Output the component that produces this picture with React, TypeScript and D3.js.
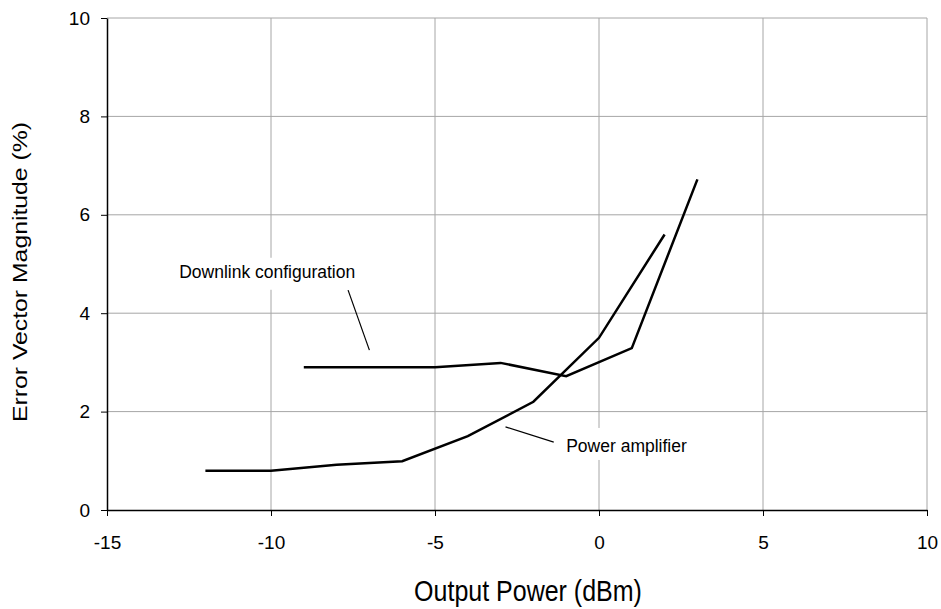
import React, { useEffect, useRef } from "react";
import * as d3 from "d3";

// values
const ampX = [-12, -10, -8, -6, -4, -2, 0, 2];
const ampY = [0.8, 0.8, 0.92, 0.99, 1.5, 2.2, 3.5, 5.6];
const dlX = [-9, -7, -5, -3, -1, 1, 3];
const dlY = [2.9, 2.9, 2.9, 2.99, 2.72, 3.29, 6.72];
const xTicks = [-15, -10, -5, 0, 5, 10];
const yTicks = [0, 2, 4, 6, 8, 10];
const labels = ["Downlink configuration", "Power amplifier"];

export default function App() {
  const ref = useRef<SVGSVGElement>(null);

  useEffect(() => {
    const width = 941,
      height = 609;
    const margin = { top: 18, right: 14, bottom: 99, left: 107 };
    const svg = d3.select(ref.current);
    svg.selectAll("*").remove();

    const x = d3.scaleLinear().domain([-15, 10]).range([margin.left, width - margin.right]);
    const y = d3.scaleLinear().domain([0, 10]).range([height - margin.bottom, margin.top]);
    const font = "'Liberation Sans', Arial, sans-serif";

    // grid
    svg.append("g")
      .selectAll("line")
      .data(yTicks.slice(1))
      .enter()
      .append("line")
      .attr("x1", x(-15))
      .attr("x2", x(10))
      .attr("y1", (d) => y(d))
      .attr("y2", (d) => y(d))
      .attr("stroke", "#a6a6a6")
      .attr("stroke-width", 1);
    svg.append("g")
      .selectAll("line")
      .data(xTicks.slice(1))
      .enter()
      .append("line")
      .attr("x1", (d) => x(d))
      .attr("x2", (d) => x(d))
      .attr("y1", y(0))
      .attr("y2", y(10))
      .attr("stroke", "#a6a6a6")
      .attr("stroke-width", 1);

    // label boxes hide the grid behind the text
    const dlPos = { x: -12.8, y: 4.72 };
    const paPos = { x: -1.0, y: 1.18 };
    svg.append("rect").attr("x", x(dlPos.x) - 8).attr("y", y(dlPos.y) - 20)
      .attr("width", 196).attr("height", 32).attr("fill", "white");
    svg.append("rect").attr("x", x(paPos.x) - 10).attr("y", y(paPos.y) - 24)
      .attr("width", 140).attr("height", 32).attr("fill", "white");

    const xAxis = d3.axisBottom(x).tickValues(xTicks).tickSize(6).tickSizeOuter(0).tickFormat((d) => String(d));
    const yAxis = d3.axisLeft(y).tickValues(yTicks).tickSize(6).tickSizeOuter(0).tickFormat((d) => String(d));

    svg.append("g")
      .attr("transform", `translate(0,${y(0)})`)
      .call(xAxis)
      .call((g) => g.select(".domain").attr("stroke", "#000").attr("stroke-width", 1.5))
      .call((g) => g.selectAll(".tick line").attr("stroke", "#000"))
      .call((g) =>
        g.selectAll(".tick text")
          .attr("y", 39)
          .attr("dy", 0)
          .style("font-family", font)
          .style("font-size", "19px")
          .attr("fill", "#000")
      );

    svg.append("g")
      .attr("transform", `translate(${x(-15)},0)`)
      .call(yAxis)
      .call((g) => g.select(".domain").attr("stroke", "#000").attr("stroke-width", 1.5))
      .call((g) => g.selectAll(".tick line").attr("stroke", "#000"))
      .call((g) =>
        g.selectAll(".tick text")
          .attr("x", -17)
          .style("font-family", font)
          .style("font-size", "19px")
          .attr("fill", "#000")
      );

    const line = d3.line<[number, number]>()
      .x((d) => x(d[0]))
      .y((d) => y(d[1]));

    const amp = ampX.map((v, i) => [v, ampY[i]] as [number, number]);
    const dl = dlX.map((v, i) => [v, dlY[i]] as [number, number]);

    [amp, dl].forEach((s) => {
      svg.append("path")
        .datum(s)
        .attr("d", line)
        .attr("fill", "none")
        .attr("stroke", "#000")
        .attr("stroke-width", 2.5)
        .attr("stroke-linejoin", "miter");
    });

    // annotations
    svg.append("text")
      .attr("x", x(dlPos.x))
      .attr("y", y(dlPos.y))
      .text(labels[0])
      .style("font-family", font)
      .style("font-size", "17.5px");
    svg.append("line")
      .attr("x1", x(-7.65)).attr("y1", y(4.47))
      .attr("x2", x(-7.0)).attr("y2", y(3.25))
      .attr("stroke", "#000").attr("stroke-width", 1.2);

    svg.append("text")
      .attr("x", x(paPos.x))
      .attr("y", y(paPos.y))
      .text(labels[1])
      .style("font-family", font)
      .style("font-size", "17.5px");
    svg.append("line")
      .attr("x1", x(-2.85)).attr("y1", y(1.69))
      .attr("x2", x(-1.38)).attr("y2", y(1.38))
      .attr("stroke", "#000").attr("stroke-width", 1.2);

    // axis titles
    svg.append("text")
      .attr("transform", `translate(${(x(-15) + x(10)) / 2 + 11},601) scale(1,1.16)`)
      .attr("text-anchor", "middle")
      .text("Output Power (dBm)")
      .style("font-family", font)
      .style("font-size", "25px");
    svg.append("text")
      .attr("transform", `translate(27,${(y(0) + y(10)) / 2 + 8}) rotate(-90) scale(1.18,1)`)
      .attr("text-anchor", "middle")
      .text("Error Vector Magnitude (%)")
      .style("font-family", font)
      .style("font-size", "21px");
  }, []);

  return (
    <svg
      ref={ref}
      width={941}
      height={609}
      style={{ position: "absolute", left: 0, top: 0, background: "white" }}
    />
  );
}
